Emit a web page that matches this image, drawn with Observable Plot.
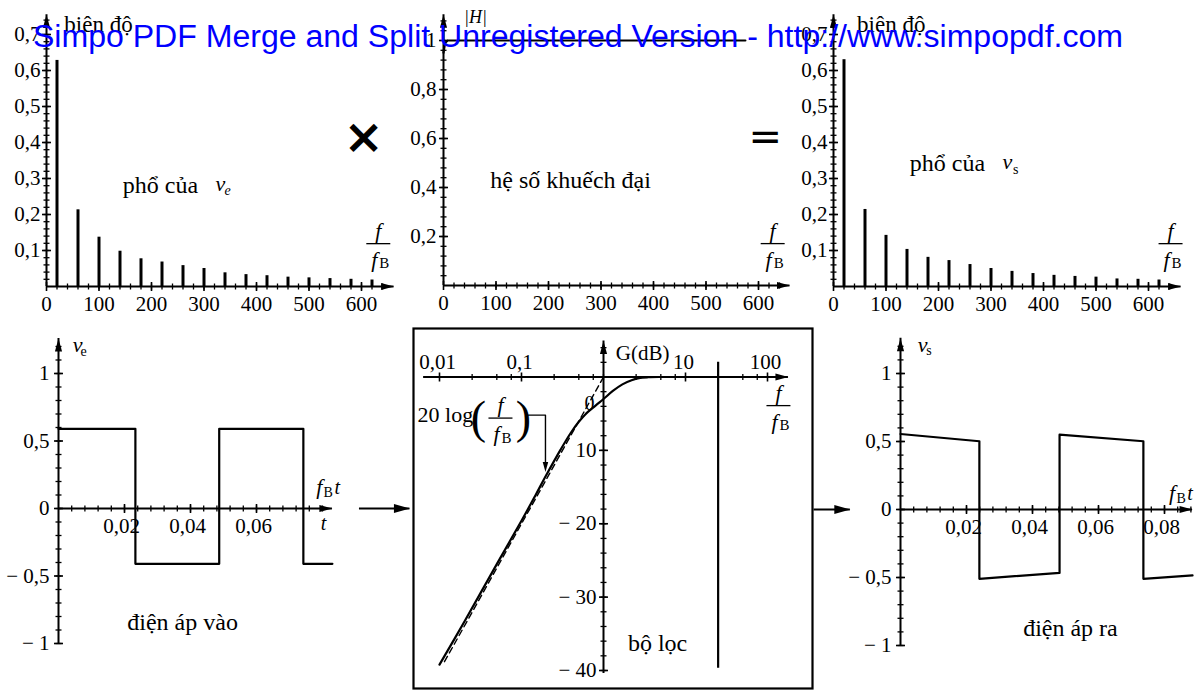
<!DOCTYPE html>
<html><head><meta charset="utf-8">
<script src="https://cdn.jsdelivr.net/npm/d3@7"></script>
<script src="https://cdn.jsdelivr.net/npm/@observablehq/plot@0.6"></script>
<style>
body{margin:0;background:#fff;}
#root{position:relative;width:1200px;height:692px;overflow:hidden;background:#fff;}
#root svg{position:absolute;left:0;top:0;}
</style></head><body><div id="root"></div>
<script>
// ---------- data ----------
const harmonics = [20,60,100,140,180,220,260,300,340,380,420,460,500,540,580,620];
const ampIn  = [0.628,0.213,0.137,0.098,0.077,0.068,0.058,0.050,0.038,0.033,0.030,0.026,0.024,0.022,0.020,0.018];
const ampOut = [0.630,0.214,0.142,0.103,0.081,0.072,0.061,0.050,0.042,0.036,0.031,0.028,0.026,0.021,0.020,0.018];
const freqTicks = [0,100,200,300,400,500,600];
const freqLabels = ["0","100","200","300","400","500","600"];
const ampTicks = [0.1,0.2,0.3,0.4,0.5,0.6,0.7];
const ampLabels = ["0,1","0,2","0,3","0,4","0,5","0,6","0,7"];
const gainF = [0,3,8,575];
const gainH = [0.95,0.99,1,1];
const gainTicks = [0.2,0.4,0.6,0.8,1];
const gainLabels = ["0,2","0,4","0,6","0,8","1"];
const inT = [0,0.0233,0.0233,0.0487,0.0487,0.0742,0.0742,0.083];
const inV = [0.59,0.59,-0.41,-0.41,0.59,0.59,-0.41,-0.41];
const outT = [0,0.0239,0.0239,0.0482,0.0482,0.0736,0.0736,0.0885];
const outV = [0.555,0.502,-0.51,-0.466,0.55,0.502,-0.51,-0.485];
const timeTicksIn = [0.02,0.04,0.06];
const timeLabelsIn = ["0,02","0,04","0,06"];
const timeTicksOut = [0.02,0.04,0.06,0.08];
const timeLabelsOut = ["0,02","0,04","0,06","0,08"];
const voltTicks = [-1,-0.5,0,0.5,1];
const voltLabels = ["− 1","− 0,5","0","0,5","1"];
const bodeF = [0.01,0.02,0.05,0.1,0.15,0.2,0.3,0.4,0.5,0.6,0.8,1,1.3,1.7,2.2,2.7,3.5,4.7];
const bodeG = [-39.2,-33.4,-25.5,-19.6,-16.0,-13.4,-9.9,-7.6,-6.1,-5.1,-3.9,-3.0,-1.9,-1.0,-0.45,-0.15,-0.03,0];
const asymF = [0.0115,1];
const asymG = [-38.8,0];
const cutF = 25, cutG = [2,-39.7];
const bodeXTicks = [0.01,0.1,10,100];
const bodeXLabels = ["0,01","0,1","10","100"];
const bodeYTicks = [-10,-20,-30,-40];
const bodeYLabels = ["10","− 20","− 30","− 40"];

// ---------- helpers ----------
const SERIF = "'Liberation Serif','DejaVu Serif','Times New Roman',serif";
const vtick = {draw(c,s){const r=Math.sqrt(s/Math.PI);c.moveTo(0,-r);c.lineTo(0,r);}};
const htick = {draw(c,s){const r=Math.sqrt(s/Math.PI);c.moveTo(-r,0);c.lineTo(r,0);}};
const headRight = {draw(c,s){const r=Math.sqrt(s/Math.PI);c.moveTo(0,0);c.lineTo(-2*r,-0.55*r);c.lineTo(-2*r,0.55*r);c.closePath();}};
const headUp = {draw(c,s){const r=Math.sqrt(s/Math.PI);c.moveTo(0,0);c.lineTo(-0.55*r,2*r);c.lineTo(0.55*r,2*r);c.closePath();}};
const headDown = {draw(c,s){const r=Math.sqrt(s/Math.PI);c.moveTo(0,0);c.lineTo(-0.55*r,-2*r);c.lineTo(0.55*r,-2*r);c.closePath();}};
const range = (a,b,s) => d3.range(Math.round((b-a)/s)+1).map(i => +(a+i*s).toFixed(6));

function label(x, y, t, o={}) {
  return Plot.text([t], {x: () => x, y: () => y, text: d => d, fontFamily: SERIF, fontSize: 22, fill: "black", ...o});
}
function fraction(x, y) {
  return [
    label(x, y, "f", {fontStyle: "italic", dy: -13}),
    Plot.dot([0], {x: () => x, y: () => y, symbol: htick, r: 12, stroke: "black", fill: "none", strokeWidth: 1.3}),
    label(x, y, "f", {fontStyle: "italic", dy: 16, dx: -4}),
    label(x, y, "B", {dy: 20, dx: 6, fontSize: 15})
  ];
}
function axes(o) {
  const {ox=0, oy=0, xFrom, xTo, yFrom, yTo, xMinor, yMinor, xMajor, yMajor, xLabels, yLabels,
         xdy=18, xdx=0, ydx=-7} = o;
  return [
    Plot.ruleY([oy], {x1: xFrom, x2: xTo, strokeWidth: 2}),
    Plot.ruleX([ox], {y1: yFrom, y2: yTo, strokeWidth: 2}),
    Plot.dot(xMinor, {x: d => d, y: () => oy, symbol: vtick, r: 3, stroke: "black", fill: "none", strokeWidth: 1.3}),
    Plot.dot(yMinor, {x: () => ox, y: d => d, symbol: htick, r: 3, stroke: "black", fill: "none", strokeWidth: 1.3}),
    Plot.dot(xMajor, {x: d => d, y: () => oy, symbol: vtick, r: 4.5, stroke: "black", fill: "none", strokeWidth: 1.6}),
    Plot.dot(yMajor, {x: () => ox, y: d => d, symbol: htick, r: 4.5, stroke: "black", fill: "none", strokeWidth: 1.6}),
    Plot.dot([xTo], {x: d => d, y: () => oy, symbol: headRight, r: 6.5, fill: "black", stroke: "none"}),
    Plot.dot([yTo], {x: () => ox, y: d => d, symbol: headUp, r: 6.5, fill: "black", stroke: "none"}),
    Plot.text(xMajor, {x: d => d, y: () => oy, text: (d, i) => xLabels[i], dy: xdy, dx: xdx, fontSize: 21, fontFamily: SERIF}),
    Plot.text(yMajor, {x: () => ox, y: d => d, text: (d, i) => yLabels[i], dx: ydx, textAnchor: "end", fontSize: 21, fontFamily: SERIF})
  ];
}
const root = document.getElementById("root");
function draw(opts) {
  const svg = Plot.plot({width: 1200, height: 692, margin: 0, style: {background: "none", overflow: "visible"}, ...opts});
  root.appendChild(svg);
}

// ---------- panel 1: spectrum of v_e ----------
const specIn = harmonics.map((f, i) => ({f, a: ampIn[i]}));
draw({
  x: {domain: [0, 600], range: [46, 361], axis: null},
  y: {domain: [0, 0.7], range: [286, 34], axis: null},
  marks: [
    ...axes({xFrom: 0, xTo: 662, yFrom: 0, yTo: 0.755, xMinor: range(20, 640, 20), yMinor: range(0.02, 0.74, 0.02),
      xMajor: freqTicks, yMajor: ampTicks, xLabels: freqLabels, yLabels: ampLabels, ydx: -6}),
    Plot.ruleX(specIn, {x: "f", y1: 0, y2: "a", strokeWidth: 3}),
    label(99, 0.728, "biên độ", {fontSize: 23}),
    label(217, 0.28, "phổ của", {fontSize: 24}),
    label(331, 0.285, "v", {fontStyle: "italic", fontSize: 22}),
    label(345, 0.285, "e", {fontStyle: "italic", fontSize: 14, dy: 7}),
    ...fraction(632, 0.119),
    label(604, 0.414, "×", {fontFamily: "'DejaVu Sans',sans-serif", fontSize: 48, fontWeight: "bold"})
  ]
});

// ---------- panel 2: gain |H| ----------
const gain = gainF.map((f, i) => ({f, h: gainH[i]}));
draw({
  x: {domain: [0, 600], range: [443, 758], axis: null},
  y: {domain: [0, 1], range: [285, 40], axis: null},
  marks: [
    ...axes({xFrom: 0, xTo: 660, yFrom: 0, yTo: 1.105, xMinor: range(20, 640, 20), yMinor: range(0.04, 1.08, 0.04),
      xMajor: freqTicks, yMajor: gainTicks, xLabels: freqLabels, yLabels: gainLabels}),
    Plot.line(gain, {x: "f", y: "h", strokeWidth: 2.2}),
    label(61, 1.094, "|H|", {fontStyle: "italic", fontSize: 18}),
    label(242, 0.43, "hệ số khuếch đại", {fontSize: 24}),
    ...fraction(627, 0.171),
    label(613, 0.604, "=", {fontFamily: "'DejaVu Sans',sans-serif", fontSize: 40})
  ]
});

// ---------- panel 3: spectrum of v_s ----------
const specOut = harmonics.map((f, i) => ({f, a: ampOut[i]}));
draw({
  x: {domain: [0, 600], range: [833, 1148], axis: null},
  y: {domain: [0, 0.7], range: [286, 34], axis: null},
  marks: [
    ...axes({xFrom: 0, xTo: 662, yFrom: 0, yTo: 0.755, xMinor: range(20, 640, 20), yMinor: range(0.02, 0.74, 0.02),
      xMajor: freqTicks, yMajor: ampTicks, xLabels: freqLabels, yLabels: ampLabels, ydx: -6}),
    Plot.ruleX(specOut, {x: "f", y1: 0, y2: "a", strokeWidth: 3}),
    label(110, 0.728, "biên độ", {fontSize: 23}),
    label(217, 0.342, "phổ của", {fontSize: 24}),
    label(331, 0.345, "v", {fontStyle: "italic", fontSize: 22}),
    label(347, 0.345, "s", {fontSize: 14, dy: 7}),
    ...fraction(642, 0.119)
  ]
});

// ---------- panel 4: input voltage ----------
const vin = inT.map((t, i) => ({t, v: inV[i]}));
const flowIn = [0.0912, 0.1065];
draw({
  x: {domain: [0, 0.08], range: [58, 322], axis: null},
  y: {domain: [-1, 1], range: [643, 373], axis: null},
  marks: [
    ...axes({xFrom: 0, xTo: 0.083, yFrom: -1, yTo: 1.26, xMinor: range(0.004, 0.08, 0.004), yMinor: range(-1, 1.2, 0.1),
      xMajor: timeTicksIn, yMajor: voltTicks, xLabels: timeLabelsIn, yLabels: voltLabels, xdx: -3, ydx: -9}),
    Plot.line(vin, {x: "t", y: "v", strokeWidth: 2.2}),
    label(0.0058, 1.21, "v", {fontStyle: "italic", fontSize: 22}),
    label(0.0076, 1.21, "e", {fontSize: 14, dy: 6}),
    label(0.0790, 0.156, "f", {fontStyle: "italic", fontSize: 22}),
    label(0.0790, 0.156, "B", {fontSize: 14, dx: 9, dy: 5}),
    label(0.0790, 0.156, "t", {fontStyle: "italic", fontSize: 20, dx: 18}),
    label(0.0803, -0.11, "t", {fontStyle: "italic", fontSize: 20}),
    label(0.0376, -0.84, "điện áp vào", {fontSize: 24}),
    Plot.ruleY([0], {x1: flowIn[0], x2: flowIn[1], strokeWidth: 1.8}),
    Plot.dot([flowIn[1]], {x: d => d, y: () => 0, symbol: headRight, r: 8, fill: "black", stroke: "none"})
  ]
});

// ---------- panel 5: filter Bode plot ----------
const bode = bodeF.map((f, i) => ({f, g: bodeG[i]}));
const asym = asymF.map((f, i) => ({f, g: asymG[i]}));
const pointer = [{f: 0.122, g: -5.2}, {f: 0.196, g: -5.2}, {f: 0.196, g: -12.0}];
const decadeMinor = [0.01, 0.1, 1, 10].flatMap(d => [2.5, 5, 7.5].map(m => +(d * m).toPrecision(3))).concat([1]);
draw({
  marginLeft: 413, marginRight: 388, marginTop: 328, marginBottom: 4,
  x: {type: "log", domain: [0.01, 100], range: [439, 767], axis: null},
  y: {domain: [-40, 0], range: [670, 376.5], axis: null},
  marks: [
    Plot.frame({stroke: "black", strokeWidth: 2.2}),
    ...axes({ox: 1, oy: 0, xFrom: 0.0064, xTo: 180, yFrom: -40.4, yTo: 4.9, xMinor: decadeMinor, yMinor: range(-40, 4, 2),
      xMajor: bodeXTicks, yMajor: bodeYTicks, xLabels: bodeXLabels, yLabels: bodeYLabels, xdy: -15, xdx: -2, ydx: -7}),
    Plot.line(asym, {x: "f", y: "g", strokeWidth: 1.4, strokeDasharray: "6,4"}),
    Plot.line(bode, {x: "f", y: "g", strokeWidth: 2.2, curve: "catmull-rom"}),
    Plot.ruleX([cutF], {y1: cutG[0], y2: cutG[1], strokeWidth: 2.2}),
    Plot.line(pointer, {x: "f", y: "g", strokeWidth: 1.4}),
    Plot.dot([pointer[2]], {x: "f", y: "g", symbol: headDown, r: 5, dy: 7, fill: "black", stroke: "none"}),
    label(3, 3.3, "G(dB)", {fontSize: 21}),
    label(0.675, -3.6, "0", {fontSize: 20}),
    label(0.0118, -5.2, "20 log", {fontSize: 22}),
    label(0.0299, -5.6, "(", {fontSize: 46, fontWeight: 100}),
    label(0.1057, -5.6, ")", {fontSize: 46, fontWeight: 100}),
    ...fraction(0.0554, -5.6),
    ...fraction(136, -3.9),
    label(4.56, -36.3, "bộ lọc", {fontSize: 24})
  ]
});

// ---------- panel 6: output voltage ----------
const vout = outT.map((t, i) => ({t, v: outV[i]}));
const flowOut = [-0.0262, -0.0152];
draw({
  x: {domain: [0, 0.08], range: [900, 1164], axis: null},
  y: {domain: [-1, 1], range: [645, 373], axis: null},
  marks: [
    ...axes({xFrom: 0, xTo: 0.0885, yFrom: -1, yTo: 1.26, xMinor: range(0.004, 0.088, 0.004), yMinor: range(-1, 1.2, 0.1),
      xMajor: timeTicksOut, yMajor: voltTicks, xLabels: timeLabelsOut, yLabels: voltLabels, xdx: -3, ydx: -9}),
    Plot.line(vout, {x: "t", y: "v", strokeWidth: 2.2}),
    label(0.0067, 1.21, "v", {fontStyle: "italic", fontSize: 22}),
    label(0.0086, 1.21, "s", {fontSize: 14, dy: 6}),
    label(0.0823, 0.118, "f", {fontStyle: "italic", fontSize: 22}),
    label(0.0823, 0.118, "B", {fontSize: 14, dx: 9, dy: 5}),
    label(0.0823, 0.118, "t", {fontStyle: "italic", fontSize: 20, dx: 18}),
    label(0.0515, -0.875, "điện áp ra", {fontSize: 24}),
    Plot.ruleY([0], {x1: flowOut[0], x2: flowOut[1], strokeWidth: 1.8}),
    Plot.dot([flowOut[1]], {x: d => d, y: () => 0, symbol: headRight, r: 8, fill: "black", stroke: "none"})
  ]
});

// ---------- watermark ----------
const wm = d3.select(root).append("svg").attr("width", 1200).attr("height", 692);
wm.append("text").attr("x", 33).attr("y", 47)
  .attr("font-family", "'Liberation Sans',Arial,sans-serif").attr("font-size", 31).attr("fill", "#0000ff")
  .attr("textLength", 1090).attr("lengthAdjust", "spacingAndGlyphs")
  .text("Simpo PDF Merge and Split Unregistered Version - http://www.simpopdf.com");
</script></body></html>
